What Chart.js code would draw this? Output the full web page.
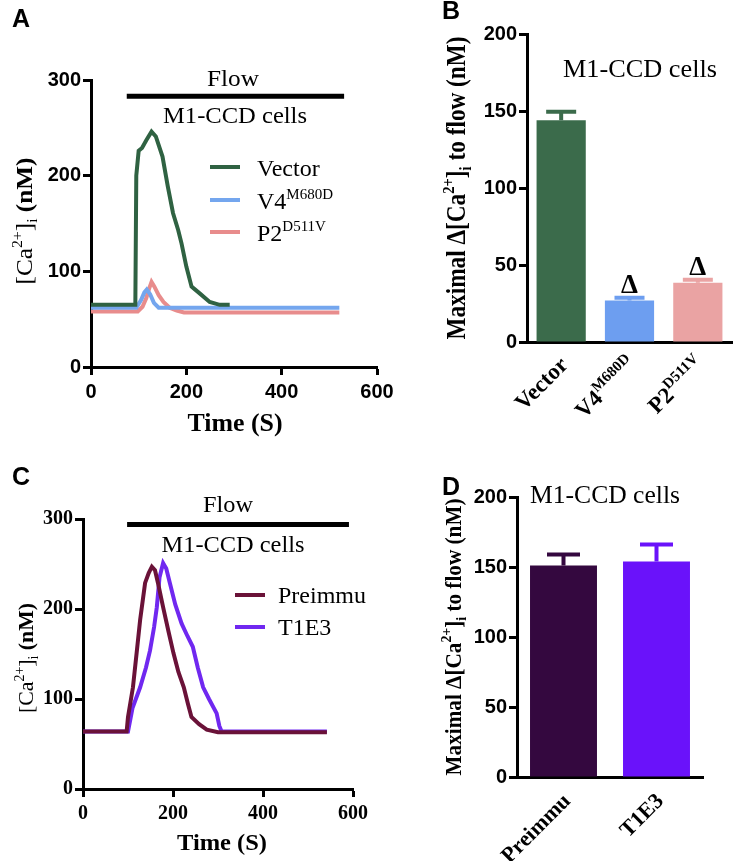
<!DOCTYPE html>
<html>
<head>
<meta charset="utf-8">
<script src="https://cdn.jsdelivr.net/npm/chart.js@4.4.0/dist/chart.umd.min.js"></script>
<style>
	body { margin: 0; background: #fff; }
	#wrap { position: relative; width: 737px; height: 861px; }
	#wrap canvas { position: absolute; left: 0; top: 0; }
</style>
</head>
<body>
<div id="wrap">
	<canvas id="chartA" width="737" height="861"></canvas>
	<canvas id="chartB" width="737" height="861"></canvas>
	<canvas id="chartC" width="737" height="861"></canvas>
	<canvas id="chartD" width="737" height="861"></canvas>
</div>
<script>
// ***** DATA *****
// panel A - [Ca2+]i traces (time in s, value in nM)
const tVector = [0, 93, 95, 100, 107, 116, 127, 136, 150, 161, 172, 183, 190, 200, 211, 228, 249, 270, 291]
const caVector = [65, 65, 200, 226, 229, 237, 246, 241, 220, 189, 161, 143, 129, 105, 84, 77, 68, 65, 65]
const tV4 = [0, 95, 105, 112, 117, 124, 132, 142, 150, 521]
const caV4 = [62, 62, 70, 78, 81, 76, 67, 62, 62, 62]
const tP2 = [0, 98, 108, 116, 122, 127, 133, 142, 152, 165, 180, 195, 521]
const caP2 = [58, 58, 63, 72, 82, 89, 84, 75, 68, 62, 59, 57, 57]
const flowA = [75, 531]

// panel B - maximal change, mean and SEM
const groupsB = ['Vector', 'V4', 'P2']
const supB = ['', 'M680D', 'D511V']
const meanB = [144, 27, 38.5]
const semB = [5.5, 1.7, 2]
const sigB = [false, true, true]

// panel C - traces with antibodies
const tPre = [0, 97, 100, 105, 111, 120, 127, 138, 146, 153, 160, 167, 178, 190, 201, 212, 224, 233, 241, 258, 275, 300, 542]
const caPre = [64, 64, 80, 95, 113, 155, 188, 229, 240, 247, 243, 228, 202, 175, 151, 130, 113, 95, 80, 72, 66, 63, 63]
const tT1E3 = [0, 100, 110, 127, 140, 149, 158, 164, 170, 178, 185, 193, 205, 219, 232, 244, 255, 267, 280, 297, 303, 308, 542]
const caT1E3 = [64, 64, 90, 113, 135, 154, 180, 202, 235, 251, 245, 229, 205, 184, 170, 158, 135, 113, 100, 84, 70, 64, 64]
const flowC = [98, 591]

// panel D
const groupsD = ['Preimmu', 'T1E3']
const meanD = [151, 154]
const semD = [8, 12]

// colours
const colVector = '#2f6242', colV4 = '#74a6ee', colP2 = '#e88c8c'
const barVector = '#3b6b4b', barV4 = '#6d9ef0', barP2 = '#eaa3a3'
const colPre = '#6a1238', colT1E3 = '#7028f0'
const barPre = '#34083f', barT1E3 = '#6a12fa'

const W = 737, H = 861
const SERIF = '"Liberation Serif", "Times New Roman", serif'
const SANS = '"Liberation Sans", Arial, sans-serif'

// ***** HELPERS *****
function pts(t, v) {
	return t.map((x, i) => ({ x: x, y: v[i] }))
}

// padding so the chart area lands on [left, top, right, bottom]
function frame(area, yw, xh) {
	return { padding: { left: area[0] - yw, top: area[1], right: W - area[2], bottom: H - area[3] - xh } }
}

// text with superscripts / subscripts, parts = [text, 'sup'|'sub'|'', weight]
function drawRich(ctx, parts, x, y, opt) {
	const size = opt.size
	const pieces = parts.map((p) => {
		const small = p[1] == 'sup' || p[1] == 'sub'
		const fs = small ? Math.round(size * 0.64) : size
		const font = (p[2] || opt.weight || 'normal') + ' ' + fs + 'px ' + (opt.family || SERIF)
		ctx.font = font
		let dy = 0
		if (p[1] == 'sup') dy = -size * 0.42
		if (p[1] == 'sub') dy = size * 0.22
		return { t: p[0], font: font, w: ctx.measureText(p[0]).width, dy: dy }
	})
	const total = pieces.reduce((s, p) => s + p.w, 0)
	ctx.save()
	ctx.translate(x, y)
	if (opt.rotate) ctx.rotate(opt.rotate)
	if (opt.fit) ctx.scale(opt.fit / total, 1)
	let cx = 0
	if (opt.align == 'center') cx = -total / 2
	if (opt.align == 'right') cx = -total
	ctx.textAlign = 'left'
	ctx.textBaseline = 'alphabetic'
	ctx.fillStyle = opt.color || '#000'
	pieces.forEach((p) => {
		ctx.font = p.font
		ctx.fillText(p.t, cx, p.dy)
		cx += p.w
	})
	ctx.restore()
}

function letter(ctx, s, x, y) {
	ctx.save()
	ctx.font = 'bold 25px ' + SANS
	ctx.fillStyle = '#000'
	ctx.textAlign = 'left'
	ctx.textBaseline = 'alphabetic'
	ctx.fillText(s, x, y)
	ctx.restore()
}

function hline(ctx, x1, x2, y, w, color) {
	ctx.save()
	ctx.strokeStyle = color
	ctx.lineWidth = w
	ctx.beginPath()
	ctx.moveTo(x1, y)
	ctx.lineTo(x2, y)
	ctx.stroke()
	ctx.restore()
}

const axisGrid = { display: true, drawOnChartArea: false, drawTicks: true, tickLength: 8, tickWidth: 3, tickColor: '#000' }
const axisBorder = { display: true, color: '#000', width: 3 }

function tickFont(family) {
	return { family: family, weight: 'bold', size: 20 }
}

// ***** TRACE CHARTS (A, C) *****
function traceChart(id, area, datasets, family, overlay) {
	const yw = 70, xh = 40
	return new Chart(document.getElementById(id), {
		type: 'line',
		data: { datasets: datasets },
		options: {
			responsive: false,
			animation: false,
			layout: frame(area, yw, xh),
			plugins: { legend: { display: false }, tooltip: { enabled: false } },
			elements: { point: { radius: 0 }, line: { tension: 0, borderWidth: 4 } },
			scales: {
				x: {
					type: 'linear', min: 0, max: 600,
					afterFit: (s) => { s.height = xh },
					ticks: { stepSize: 200, font: tickFont(family), color: '#000', padding: 5, maxRotation: 0 },
					grid: axisGrid, border: axisBorder,
				},
				y: {
					type: 'linear', min: 0, max: 300,
					afterFit: (s) => { s.width = yw },
					ticks: { stepSize: 100, font: tickFont(family), color: '#000', padding: 2 },
					grid: axisGrid, border: axisBorder,
				},
			},
		},
		plugins: [overlay],
	})
}

// ***** BAR CHARTS (B, D) *****
function barChart(id, area, groups, means, colors, overlay) {
	const yw = 70, xh = 40
	return new Chart(document.getElementById(id), {
		type: 'bar',
		data: {
			labels: groups,
			datasets: [{ data: means, backgroundColor: colors, barPercentage: 0.72, categoryPercentage: 1 }],
		},
		options: {
			responsive: false,
			animation: false,
			layout: frame(area, yw, xh),
			plugins: { legend: { display: false }, tooltip: { enabled: false } },
			scales: {
				x: {
					afterFit: (s) => { s.height = xh },
					ticks: { display: false },
					grid: { display: true, drawOnChartArea: false, drawTicks: false },
					border: axisBorder,
				},
				y: {
					min: 0, max: 200,
					afterFit: (s) => { s.width = yw },
					ticks: { stepSize: 50, font: tickFont(SANS), color: '#000', padding: 2 },
					grid: axisGrid, border: axisBorder,
				},
			},
		},
		plugins: [overlay],
	})
}

function errorBars(chart, means, sems, colors, capW) {
	const ctx = chart.ctx
	const y = chart.scales.y
	chart.getDatasetMeta(0).data.forEach((bar, i) => {
		const top = y.getPixelForValue(means[i] + sems[i])
		ctx.save()
		ctx.strokeStyle = colors[i]
		ctx.lineWidth = 4
		ctx.beginPath()
		ctx.moveTo(bar.x, bar.y)
		ctx.lineTo(bar.x, top)
		ctx.moveTo(bar.x - capW / 2, top)
		ctx.lineTo(bar.x + capW / 2, top)
		ctx.stroke()
		ctx.restore()
	})
}

// ***** PANEL A *****
traceChart('chartA', [91, 80, 377, 367], [
	{ data: pts(tVector, caVector), borderColor: colVector },
	{ data: pts(tV4, caV4), borderColor: colV4 },
	{ data: pts(tP2, caP2), borderColor: colP2 },
], SANS, {
	id: 'overlayA',
	afterDraw(chart) {
		const ctx = chart.ctx
		const { x, y } = chart.scales
		letter(ctx, 'A', 12, 27)
		drawRich(ctx, [['Flow', '']], 233, 86, { size: 24, align: 'center', fit: 52 })
		hline(ctx, x.getPixelForValue(flowA[0]), x.getPixelForValue(flowA[1]), y.getPixelForValue(283), 5, '#000')
		drawRich(ctx, [['M1-CCD cells', '']], 235, 123, { size: 24, align: 'center', fit: 144 })
		// legend
		const legend = [
			[colVector, 167, [['Vector', '']]],
			[colV4, 200, [['V4', ''], ['M680D', 'sup']]],
			[colP2, 232, [['P2', ''], ['D511V', 'sup']]],
		]
		legend.forEach((l) => {
			hline(ctx, 210, 240, l[1], 4, l[0])
			drawRich(ctx, l[2], 257, l[1] + 9, { size: 24 })
		})
		// axis titles
		drawRich(ctx, [['[Ca', ''], ['2+', 'sup'], [']', ''], ['i', 'sub'], [' (nM)', '', 'bold']], 32, 221,
			{ size: 24, align: 'center', rotate: -Math.PI / 2, fit: 127 })
		drawRich(ctx, [['Time (S)', '']], 235, 431, { size: 25, weight: 'bold', align: 'center', fit: 95 })
	},
})

// ***** PANEL B *****
barChart('chartB', [527, 34, 732, 342], groupsB, meanB, [barVector, barV4, barP2], {
	id: 'overlayB',
	afterDraw(chart) {
		const ctx = chart.ctx
		const a = chart.chartArea
		const y = chart.scales.y
		letter(ctx, 'B', 442, 19)
		errorBars(chart, meanB, semB, [barVector, barV4, barP2], 30)
		drawRich(ctx, [['M1-CCD cells', '']], 640, 77, { size: 25, align: 'center', fit: 154 })
		chart.getDatasetMeta(0).data.forEach((bar, i) => {
			if (sigB[i]) {
				drawRich(ctx, [['\u0394', '']], bar.x, y.getPixelForValue(meanB[i] + semB[i]) - 5, { size: 27, weight: 'bold', align: 'center' })
			}
			const parts = [[groupsB[i], '']]
			if (supB[i]) parts.push([supB[i], 'sup'])
			drawRich(ctx, parts, bar.x + 8, a.bottom + 24, { size: 23, weight: 'bold', align: 'right', rotate: -Math.PI / 4 })
		})
		drawRich(ctx, [['Maximal \u0394[Ca', ''], ['2+', 'sup'], [']', ''], ['i', 'sub'], [' to flow (nM)', '']], 465, 188,
			{ size: 27, weight: 'bold', align: 'center', rotate: -Math.PI / 2, fit: 303 })
	},
})

// ***** PANEL C *****
traceChart('chartC', [83, 519, 353, 789], [
	{ data: pts(tPre, caPre), borderColor: colPre },
	{ data: pts(tT1E3, caT1E3), borderColor: colT1E3 },
], SERIF, {
	id: 'overlayC',
	afterDraw(chart) {
		const ctx = chart.ctx
		const { x, y } = chart.scales
		letter(ctx, 'C', 12, 485)
		drawRich(ctx, [['Flow', '']], 228, 512, { size: 23, align: 'center', fit: 50 })
		hline(ctx, x.getPixelForValue(flowC[0]), x.getPixelForValue(flowC[1]), y.getPixelForValue(294), 5, '#000')
		drawRich(ctx, [['M1-CCD cells', '']], 233, 552, { size: 24, align: 'center', fit: 143 })
		const legend = [
			[colPre, 595, 'Preimmu'],
			[colT1E3, 627, 'T1E3'],
		]
		legend.forEach((l) => {
			hline(ctx, 235, 265, l[1], 4, l[0])
			drawRich(ctx, [[l[2], '']], 278, l[1] + 8, { size: 24 })
		})
		drawRich(ctx, [['[Ca', ''], ['2+', 'sup'], [']', ''], ['i', 'sub'], [' (nM)', '', 'bold']], 33, 658,
			{ size: 22, align: 'center', rotate: -Math.PI / 2, fit: 110 })
		drawRich(ctx, [['Time (S)', '']], 222, 850, { size: 24, weight: 'bold', align: 'center', fit: 90 })
	},
})

// ***** PANEL D *****
barChart('chartD', [517, 497, 703, 777], groupsD, meanD, [barPre, barT1E3], {
	id: 'overlayD',
	afterDraw(chart) {
		const ctx = chart.ctx
		const a = chart.chartArea
		letter(ctx, 'D', 442, 495)
		errorBars(chart, meanD, semD, [barPre, barT1E3], 33)
		drawRich(ctx, [['M1-CCD cells', '']], 605, 503, { size: 25, align: 'center', fit: 150 })
		chart.getDatasetMeta(0).data.forEach((bar, i) => {
			drawRich(ctx, [[groupsD[i], '']], bar.x + 8, a.bottom + 25, { size: 22, weight: 'bold', align: 'right', rotate: -Math.PI / 4 })
		})
		drawRich(ctx, [['Maximal \u0394[Ca', ''], ['2+', 'sup'], [']', ''], ['i', 'sub'], [' to flow (nM)', '']], 461, 637,
			{ size: 23, weight: 'bold', align: 'center', rotate: -Math.PI / 2, fit: 277 })
	},
})
</script>
</body>
</html>
